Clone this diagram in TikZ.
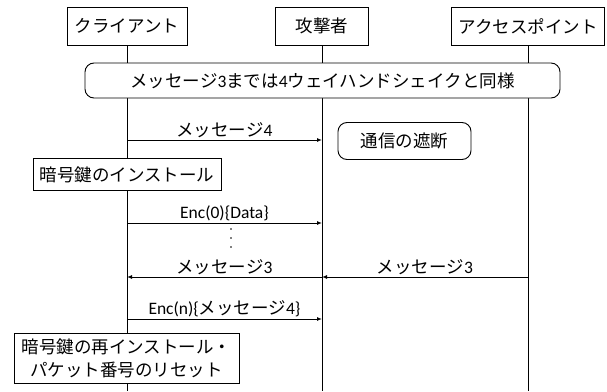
\documentclass[tikz,border=0pt]{standalone}
\usepackage{fontspec}
\setmainfont{Carlito}
\newfontfamily\jp{Noto Sans CJK JP}
\usetikzlibrary{arrows.meta}
\begin{document}
\begin{tikzpicture}[x=1pt,y=-1pt,
  font=\fontsize{17.5}{23}\selectfont,
  actor/.style={draw, fill=white, line width=0.9pt, minimum height=38pt, inner sep=0pt},
  proc/.style={draw, fill=white, line width=0.9pt, inner sep=0pt},
  note/.style={draw, fill=white, line width=0.9pt, rounded corners=9pt, inner sep=0pt},
  lifeline/.style={line width=1pt},
  msg/.style={line width=1pt, -{Latex[length=5pt,width=4pt]}},
  lbl/.style={midway, above, inner sep=2pt},
  dotmark/.style={circle, fill=black, inner sep=0pt, minimum size=1.8pt}]
\useasboundingbox (0,0) rectangle (607,391);
\coordinate (bot) at (0,391);
% actors
\node[actor, minimum width=120pt] (cl) at (127,26) {\jp クライアント};
\node[actor, minimum width=93pt] (at) at (322,26) {\jp 攻撃者};
\node[actor, minimum width=153pt] (ap) at (528,26) {\jp アクセスポイント};
% lifelines
\draw[lifeline] (cl.south) -- (cl.south |- bot);
\draw[lifeline] (at.south) -- (at.south |- bot);
\draw[lifeline] (ap.south) -- (ap.south |- bot);
% notes and boxes
\node[note, minimum width=475pt, minimum height=35pt] (same) at (322.5,80.5) {{\jp メッセージ}3{\jp までは}4{\jp ウェイハンドシェイクと同様}};
\node[note, minimum width=133pt, minimum height=37pt] (cut) at (404.5,141) {\jp 通信の遮断};
\node[proc, minimum width=188pt, minimum height=32pt] (inst) at (127,174.5) {\jp 暗号鍵のインストール};
\node[proc, minimum width=225pt, minimum height=50pt, align=center] (reinst) at (126.5,358) {\jp 暗号鍵の再インストール・\\\jp パケット番号のリセット};
% message coordinates
\coordinate (c4) at (127,140);  \coordinate (a4) at (322,140);
\coordinate (c0) at (127,223);  \coordinate (a0) at (322,223);
\coordinate (c3) at (127,277);  \coordinate (a3) at (322,277); \coordinate (p3) at (528,277);
\coordinate (cn) at (127,319);  \coordinate (an) at (322,319);
% messages
\draw[msg] (c4) -- (a4) node[lbl] {{\jp メッセージ}4};
\draw[msg] (c0) -- (a0) node[lbl] {Enc(0)\{Data\}};
\draw[msg] (a3) -- (c3) node[lbl] {{\jp メッセージ}3};
\draw[msg] (p3) -- (a3) node[lbl] {{\jp メッセージ}3};
\draw[msg] (cn) -- (an) node[lbl] {Enc(n)\{{\jp メッセージ}4\}};
% ellipsis dots
\node[dotmark] (d1) at (231,229) {};
\node[dotmark] (d2) at (231,238) {};
\node[dotmark] (d3) at (231,247) {};
\end{tikzpicture}
\end{document}
